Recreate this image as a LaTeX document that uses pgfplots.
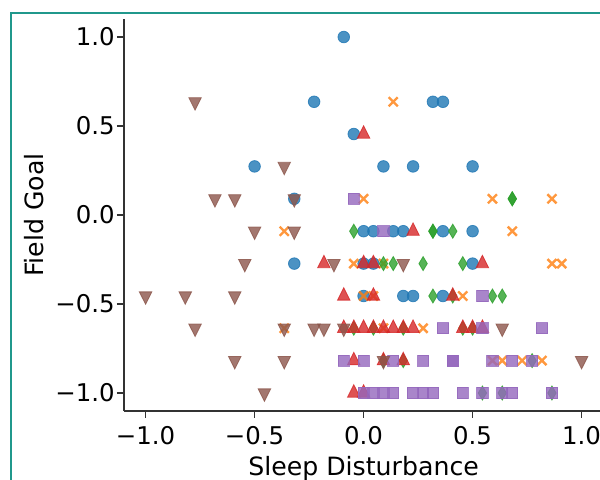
\documentclass[border=0pt]{standalone}
\usepackage{fontspec}
\setmainfont{DejaVu Sans}
\usepackage{pgfplots}
\pgfplotsset{compat=1.18}

\definecolor{tabblue}{HTML}{1F77B4}
\definecolor{taborange}{HTML}{FF7F0E}
\definecolor{tabgreen}{HTML}{2CA02C}
\definecolor{tabred}{HTML}{D62728}
\definecolor{tabpurple}{HTML}{9467BD}
\definecolor{tabbrown}{HTML}{8C564B}
\definecolor{frameteal}{RGB}{32,152,140}

\begin{document}
\begin{tikzpicture}
% page = the cropped figure (600x479 px, 1px = 0.5pt)
\path[use as bounding box] (-61.9pt,-34.1pt) rectangle (238.1pt,205.4pt);
\fill[white] (-61.9pt,-34.1pt) rectangle (238.1pt,205.4pt);
\clip (-61.9pt,-34.1pt) rectangle (238.1pt,205.4pt);
\begin{axis}[
    scale only axis,
    width=239.8pt, height=195.8pt,
    xmin=-1.1, xmax=1.1, ymin=-1.1, ymax=1.1,
    clip=false,
    axis lines=left,
    axis line style={-, black!80, line width=0.8pt},
    tick align=outside,
    major tick length=3.5pt,
    tick style={black!80, line width=0.8pt},
    xtick={-1,-0.5,0,0.5,1},
    xticklabels={−1.0,−0.5,0.0,0.5,1.0},
    ytick={-1,-0.5,0,0.5,1},
    yticklabels={−1.0,−0.5,0.0,0.5,1.0},
    xticklabel style={anchor=north, inner sep=0pt, yshift=-4.2pt, font=\fontsize{12.2}{14}\selectfont},
    yticklabel style={anchor=east, inner sep=0pt, xshift=-0.9pt, font=\fontsize{12.2}{14}\selectfont},
    xlabel={Sleep Disturbance},
    ylabel={Field Goal},
    every axis x label/.style={at={(axis description cs:0.5,-0.164)}, anchor=base, font=\fontsize{12.6}{15}\selectfont},
    every axis y label/.style={at={(axis description cs:-0.187,0.5)}, rotate=90, anchor=center, font=\fontsize{12.6}{15}\selectfont},
    only marks,
]
% circles
\addplot[mark=*, mark size=2.9pt, color=tabblue, mark options={opacity=0.8}] coordinates {
(-0.091,1.0)
(-0.227,0.636) (0.318,0.636) (0.364,0.636)
(-0.045,0.455)
(-0.5,0.273) (0.091,0.273) (0.227,0.273) (0.5,0.273)
(-0.318,0.091)
(0,-0.091) (0.045,-0.091) (0.136,-0.091) (0.182,-0.091) (0.364,-0.091) (0.5,-0.091)
(-0.318,-0.273) (0,-0.273) (0.045,-0.273) (0.5,-0.273)
(0,-0.455) (0.182,-0.455) (0.227,-0.455) (0.364,-0.455)
};
% crosses
\addplot[mark=x, mark size=3.2pt, color=taborange, mark options={opacity=0.8, line width=1.2pt}] coordinates {
(0.136,0.636)
(0,0.091) (0.591,0.091) (0.864,0.091)
(-0.364,-0.091) (0.682,-0.091)
(-0.045,-0.273) (0.091,-0.273) (0.864,-0.273) (0.909,-0.273)
(0,-0.455) (0.045,-0.455) (0.455,-0.455)
(-0.364,-0.636) (0.091,-0.636) (0.273,-0.636)
(0.591,-0.818) (0.636,-0.818) (0.727,-0.818) (0.818,-0.818)
};
% thin diamonds
\addplot[mark=diamond*, mark size=3.5pt, color=tabgreen, mark options={opacity=0.8, xscale=0.8}] coordinates {
(0.682,0.091) (0.682,0.091)
(-0.045,-0.091) (0.318,-0.091) (0.318,-0.091) (0.409,-0.091)
(0.091,-0.273) (0.136,-0.273) (0.273,-0.273) (0.455,-0.273)
(0.318,-0.455) (0.409,-0.455) (0.591,-0.455) (0.636,-0.455)
(-0.045,-0.636) (0.045,-0.636) (0.182,-0.636) (0.455,-0.636) (0.5,-0.636)
(0.091,-0.818) (0.182,-0.818) (0.773,-0.818)
(0.545,-1) (0.636,-1) (0.864,-1)
};
% triangles up
\addplot[mark=triangle*, mark size=3.6pt, color=tabred, mark options={opacity=0.8, yscale=1.15}] coordinates {
(0,0.455)
(0.227,-0.091)
(-0.182,-0.273) (0,-0.273) (0.045,-0.273) (0.545,-0.273)
(-0.091,-0.455) (0.045,-0.455) (0.409,-0.455)
(-0.091,-0.636) (-0.045,-0.636) (0,-0.636) (0.045,-0.636) (0.091,-0.636)
(0.136,-0.636) (0.182,-0.636) (0.227,-0.636) (0.455,-0.636) (0.5,-0.636) (0.545,-0.636)
(-0.045,-0.818) (0.091,-0.818) (0.182,-0.818)
(-0.045,-1) (0,-1)
};
% squares
\addplot[mark=square*, mark size=2.8pt, color=tabpurple, mark options={opacity=0.8}] coordinates {
(-0.045,0.091)
(0.091,-0.091)
(0.545,-0.455)
(0.364,-0.636) (0.545,-0.636) (0.818,-0.636)
(-0.091,-0.818) (0,-0.818) (0.136,-0.818) (0.273,-0.818) (0.409,-0.818) (0.409,-0.818)
(0.591,-0.818) (0.682,-0.818) (0.773,-0.818)
(0,-1) (0.045,-1) (0.091,-1) (0.136,-1) (0.227,-1) (0.273,-1) (0.318,-1)
(0.455,-1) (0.545,-1) (0.636,-1) (0.682,-1) (0.864,-1)
};
% triangles down
\addplot[mark=triangle*, mark size=3.6pt, color=tabbrown, mark options={opacity=0.8, rotate=180, yscale=1.15}] coordinates {
(-0.773,0.636)
(-0.364,0.273)
(-0.682,0.091) (-0.591,0.091) (-0.318,0.091)
(-0.5,-0.091) (-0.318,-0.091)
(-0.545,-0.273) (-0.136,-0.273) (0.182,-0.273)
(-1,-0.455) (-0.818,-0.455) (-0.591,-0.455)
(-0.773,-0.636) (-0.364,-0.636) (-0.227,-0.636) (-0.182,-0.636) (-0.091,-0.636) (0.636,-0.636)
(-0.591,-0.818) (-0.364,-0.818) (0.091,-0.818) (1,-0.818)
(-0.455,-1)
};
\end{axis}
% figure frame, only its left and top edges are inside the crop
\draw[frameteal, line width=1pt] (-56.15pt,-40pt) -- (-56.15pt,199.1pt) -- (245pt,199.1pt);
\end{tikzpicture}
\end{document}
